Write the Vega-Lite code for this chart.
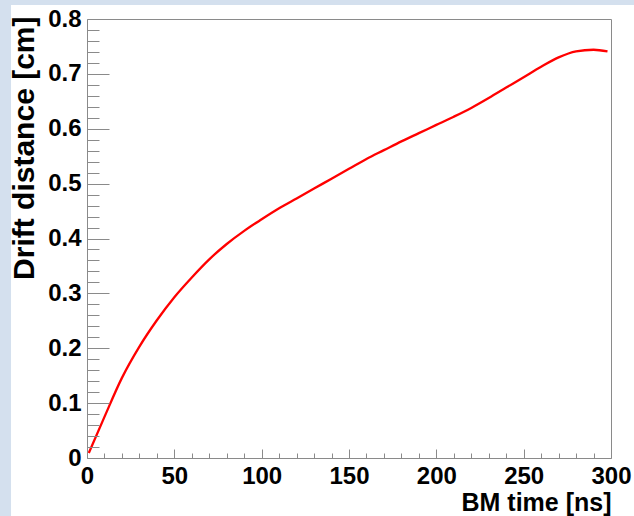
{
  "$schema": "https://vega.github.io/schema/vega-lite/v6.json",
  "width": 524,
  "height": 439,
  "autosize": "none",
  "padding": {"left": 87, "top": 19, "right": 23, "bottom": 58},
  "background": "#d4e0ee",
  "config": {
    "view": {"stroke": null},
    "font": "Liberation Sans",
    "axis": {
      "grid": false,
      "domainColor": "#8a8a8a",
      "tickColor": "#8a8a8a",
      "domainWidth": 1,
      "tickWidth": 1,
      "labelFont": "Liberation Sans",
      "labelFontWeight": "bold",
      "labelColor": "#000000",
      "titleFont": "Liberation Sans",
      "titleFontWeight": "bold",
      "titleColor": "#000000",
      "labelFlush": false,
      "labelOverlap": false
    }
  },
  "data": {
    "values": [
      {"t": 1, "d": 0.009},
      {"t": 10, "d": 0.075},
      {"t": 20, "d": 0.146},
      {"t": 30, "d": 0.203},
      {"t": 40, "d": 0.251},
      {"t": 50, "d": 0.293},
      {"t": 60, "d": 0.329},
      {"t": 70, "d": 0.362},
      {"t": 80, "d": 0.390},
      {"t": 90, "d": 0.414},
      {"t": 100, "d": 0.435},
      {"t": 110, "d": 0.455},
      {"t": 120, "d": 0.473},
      {"t": 130, "d": 0.491},
      {"t": 140, "d": 0.509},
      {"t": 150, "d": 0.527},
      {"t": 160, "d": 0.545},
      {"t": 170, "d": 0.561},
      {"t": 180, "d": 0.577},
      {"t": 190, "d": 0.592},
      {"t": 200, "d": 0.607},
      {"t": 210, "d": 0.622},
      {"t": 220, "d": 0.638},
      {"t": 230, "d": 0.656},
      {"t": 240, "d": 0.675},
      {"t": 250, "d": 0.694},
      {"t": 260, "d": 0.713},
      {"t": 270, "d": 0.730},
      {"t": 280, "d": 0.741},
      {"t": 290, "d": 0.744},
      {"t": 298, "d": 0.741}
    ]
  },
  "layer": [
    {
      "data": {"values": [{}]},
      "mark": {"type": "rect", "color": "#ffffff", "clip": false},
      "encoding": {
        "x": {"datum": -43.5, "type": "quantitative", "axis": null, "scale": {"domain": [0, 300], "nice": false, "zero": false}},
        "x2": {"datum": 316},
        "y": {"datum": 0.8255, "type": "quantitative", "axis": null, "scale": {"domain": [0, 0.8], "nice": false, "zero": false}},
        "y2": {"datum": -0.12}
      }
    },
    {
      "mark": {"type": "line", "color": "#ff0000", "strokeWidth": 2.3, "interpolate": "monotone", "clip": true},
      "encoding": {
        "x": {
          "field": "t", "type": "quantitative",
          "scale": {"domain": [0, 300], "nice": false, "zero": false},
          "axis": {
            "zindex": 2,
            "orient": "bottom", "ticks": false, "domain": true,
            "values": [0, 50, 100, 150, 200, 250, 300],
            "labelFontSize": 24, "labelPadding": 6,
            "title": "BM time [ns]", "titleFontSize": 25,
            "titleAnchor": "end", "titleAlign": "right", "titleBaseline": "alphabetic",
            "titleX": 524, "titleY": 52
          }
        },
        "y": {
          "field": "d", "type": "quantitative",
          "scale": {"domain": [0, 0.8], "nice": false, "zero": false},
          "axis": {
            "zindex": 2,
            "orient": "left", "ticks": false, "domain": true,
            "values": [0, 0.1, 0.2, 0.3, 0.4, 0.5, 0.6, 0.7, 0.8],
            "format": "~g",
            "labelFontSize": 24, "labelPadding": 6,
            "title": "Drift distance [cm]", "titleFontSize": 30,
            "titleAngle": -90, "titleAnchor": "end", "titleAlign": "right", "titleBaseline": "alphabetic",
            "titleX": -54, "titleY": -3
          }
        }
      }
    },
    {
      "mark": {"type": "line", "opacity": 0},
      "encoding": {
        "x": {
          "field": "t", "type": "quantitative",
          "scale": {"domain": [0, 300], "nice": false, "zero": false},
          "axis": {"zindex": 2, "orient": "bottom", "domain": false, "labels": false, "title": null, "tickSize": -9,
                   "values": [0, 50, 100, 150, 200, 250, 300]}
        },
        "y": {
          "field": "d", "type": "quantitative",
          "scale": {"domain": [0, 0.8], "nice": false, "zero": false},
          "axis": {"zindex": 2, "orient": "left", "domain": false, "labels": false, "title": null, "tickSize": -22,
                   "values": [0, 0.1, 0.2, 0.3, 0.4, 0.5, 0.6, 0.7, 0.8]}
        }
      }
    },
    {
      "mark": {"type": "line", "opacity": 0},
      "encoding": {
        "x": {
          "field": "t", "type": "quantitative",
          "scale": {"domain": [0, 300], "nice": false, "zero": false},
          "axis": {"zindex": 2, "orient": "bottom", "domain": false, "labels": false, "title": null, "tickSize": -5,
                   "values": [10, 20, 30, 40, 60, 70, 80, 90, 110, 120, 130, 140, 160, 170, 180, 190, 210, 220, 230, 240, 260, 270, 280, 290]}
        },
        "y": {
          "field": "d", "type": "quantitative",
          "scale": {"domain": [0, 0.8], "nice": false, "zero": false},
          "axis": {"zindex": 2, "orient": "left", "domain": false, "labels": false, "title": null, "tickSize": -12,
                   "values": [0.02, 0.04, 0.06, 0.08, 0.12, 0.14, 0.16, 0.18, 0.22, 0.24, 0.26, 0.28, 0.32, 0.34, 0.36, 0.38, 0.42, 0.44, 0.46, 0.48, 0.52, 0.54, 0.56, 0.58, 0.62, 0.64, 0.66, 0.68, 0.72, 0.74, 0.76, 0.78]}
        }
      }
    },
    {
      "mark": {"type": "line", "opacity": 0},
      "encoding": {
        "x": {
          "field": "t", "type": "quantitative",
          "scale": {"domain": [0, 300], "nice": false, "zero": false},
          "axis": {"zindex": 2, "orient": "top", "domain": true, "ticks": false, "labels": false, "title": null}
        },
        "y": {
          "field": "d", "type": "quantitative",
          "scale": {"domain": [0, 0.8], "nice": false, "zero": false},
          "axis": {"zindex": 2, "orient": "right", "domain": true, "ticks": false, "labels": false, "title": null}
        }
      }
    }
  ],
  "resolve": {"axis": {"x": "independent", "y": "independent"}}
}
